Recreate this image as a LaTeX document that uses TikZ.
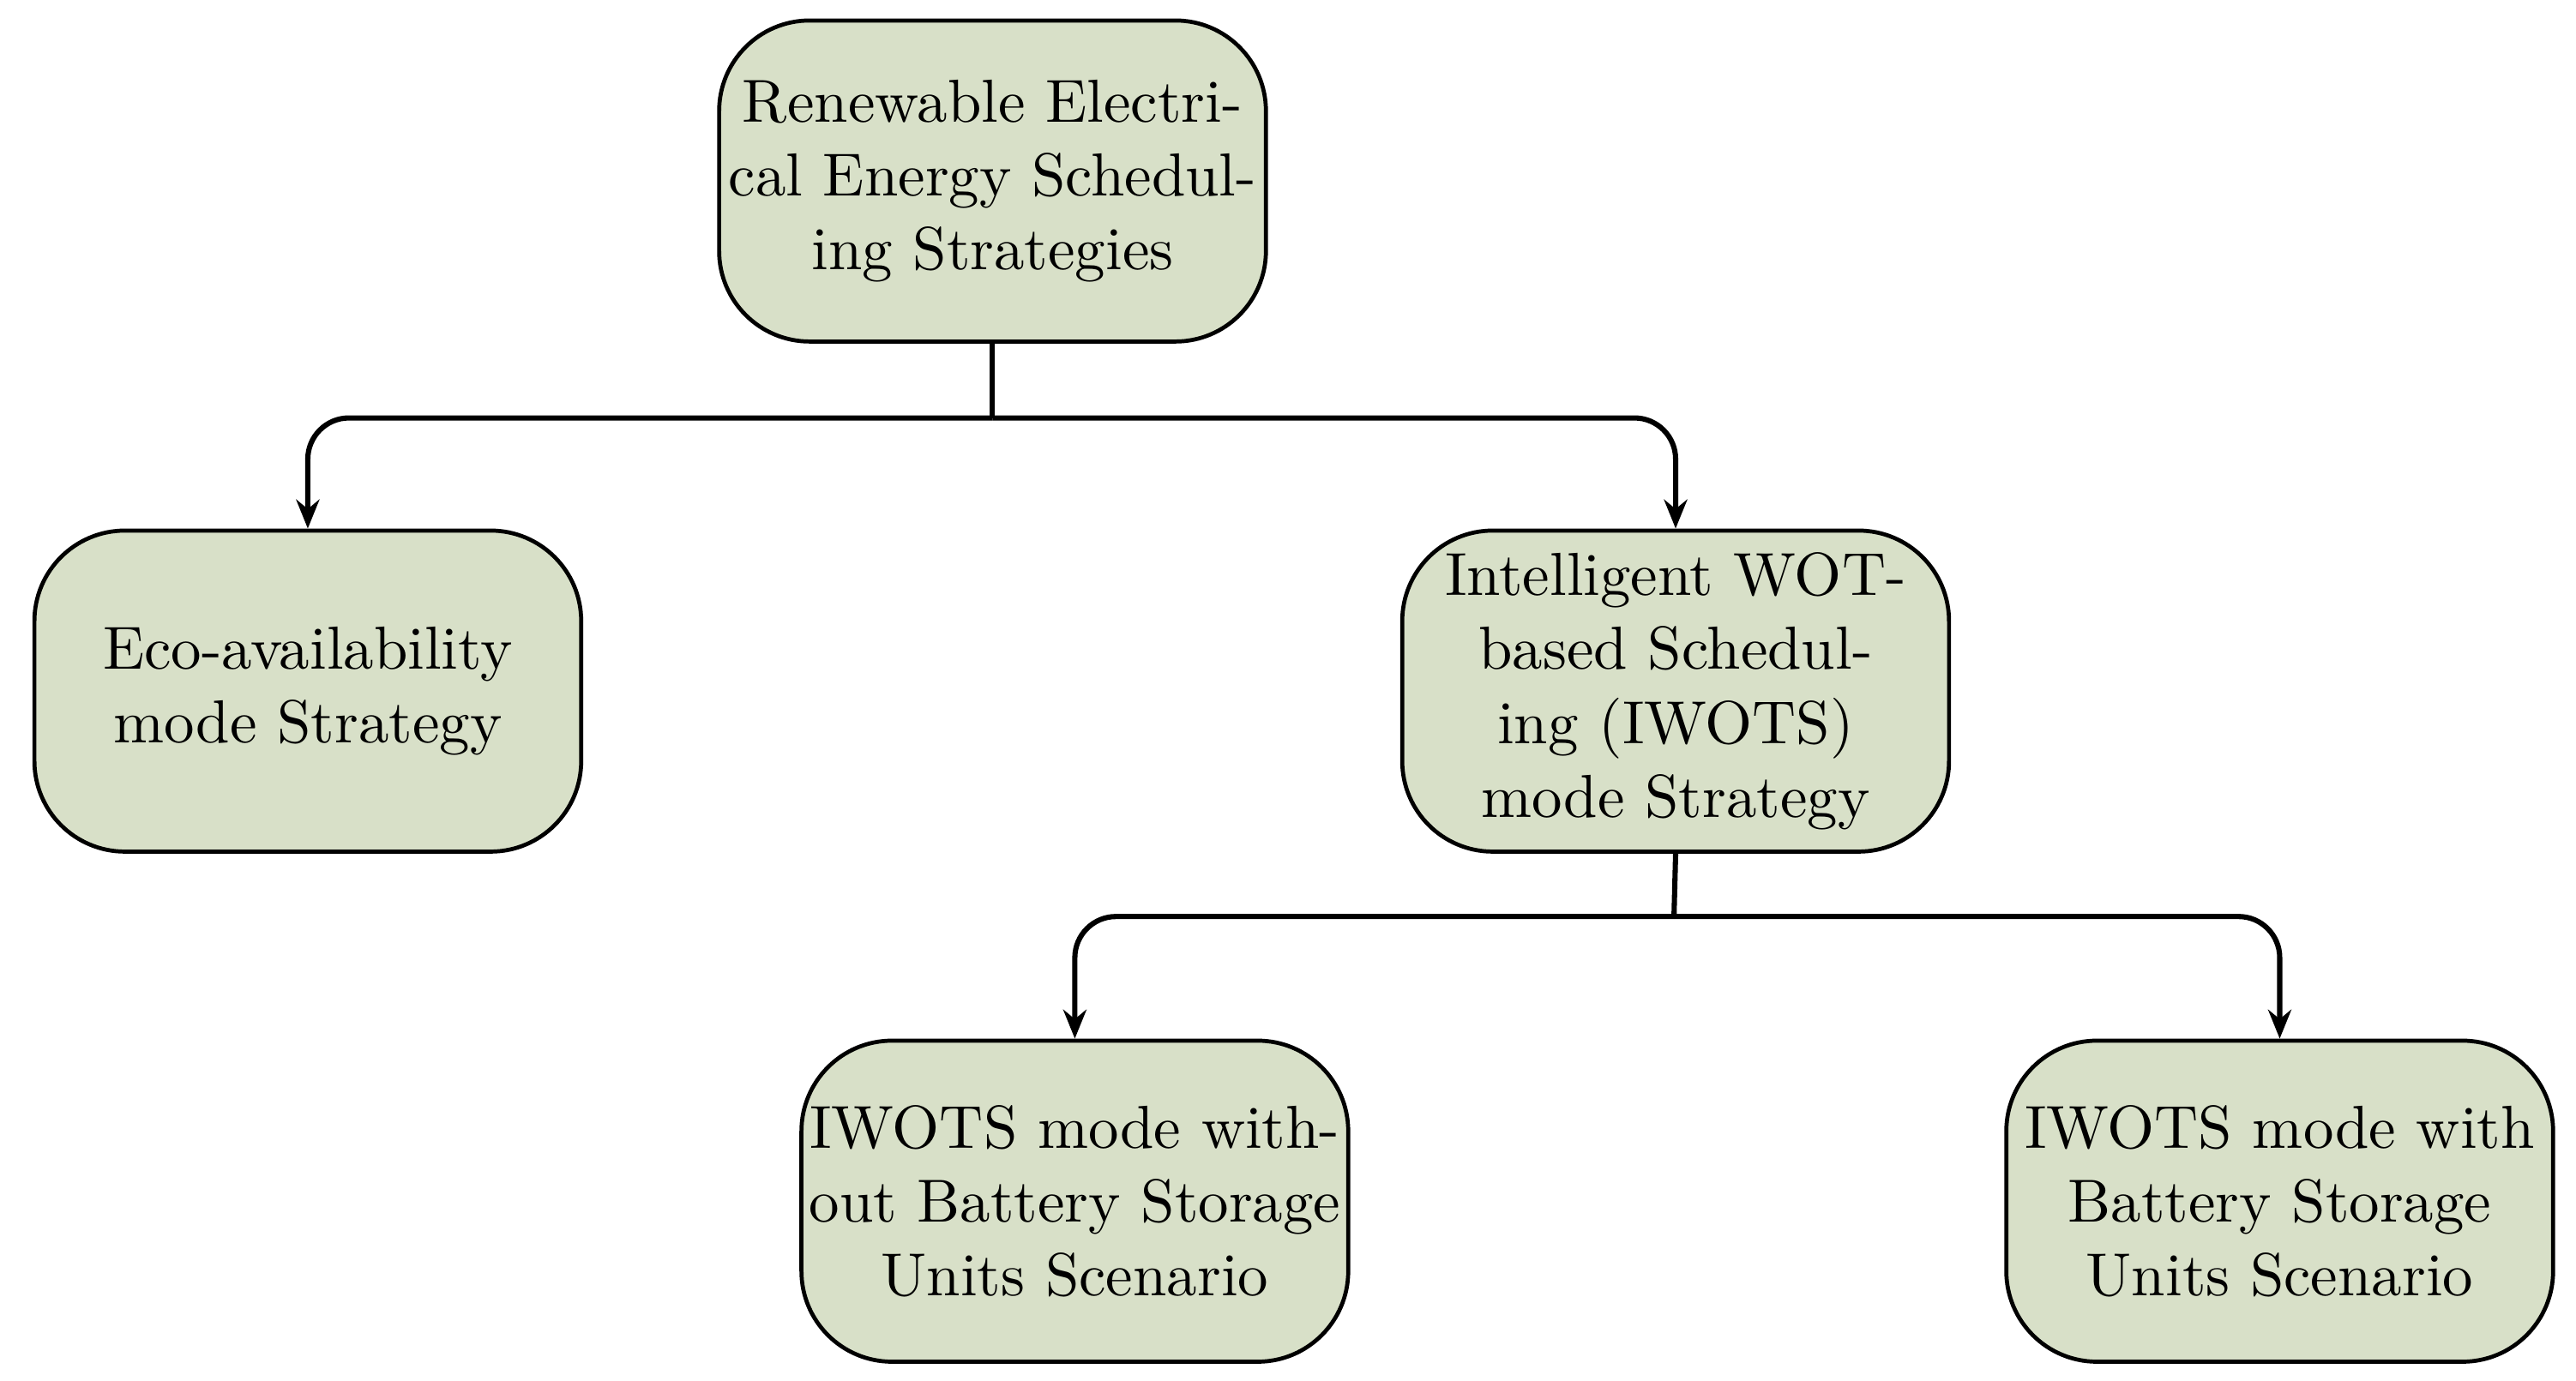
\documentclass[tikz,border=0pt]{standalone}
\usetikzlibrary{arrows.meta}
\definecolor{boxfill}{HTML}{D8E0C8}
\begin{document}
\begin{tikzpicture}[x=0.01cm,y=-0.01cm,
  box/.style={draw,line width=0.7pt,fill=boxfill,rounded corners=0.55cm,minimum width=3.32cm,minimum height=1.95cm,text width=3.3cm,align=center,inner sep=0pt,font=\fontsize{10.5}{12.8}\selectfont},
  conn/.style={line width=0.9pt,rounded corners=0.25cm,-{Stealth[length=5pt,width=4pt]}}]
\useasboundingbox (0,0) rectangle (1565,839);
\node[box] (top) at (603,110) {Renewable Electrical Energy Scheduling Strategies};
\node[box] (eco) at (187,420) {Eco-availability mode Strategy};
\node[box] (iw) at (1018,420) {Intelligent WOT-based Scheduling (IWOTS) mode Strategy};
\node[box] (wo) at (653,730) {IWOTS mode without Battery Storage Units Scenario};
\node[box] (wi) at (1385,730) {IWOTS mode with Battery Storage Units Scenario};
\coordinate (b1) at (603,254);
\coordinate (b2) at (1017,557);
\draw[line width=0.9pt] (top.south) -- (b1);
\draw[conn] (b1) -| (eco.north);
\draw[conn] (b1) -| (iw.north);
\draw[line width=0.9pt] (iw.south) -- (b2);
\draw[conn] (b2) -| (wo.north);
\draw[conn] (b2) -| (wi.north);
\end{tikzpicture}
\end{document}
